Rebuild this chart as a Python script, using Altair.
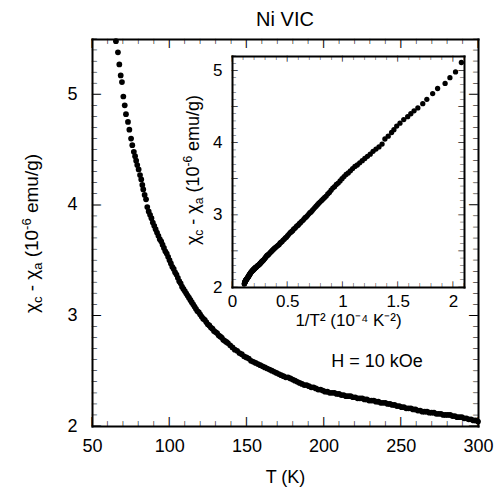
import altair as alt
import pandas as pd

# ---- data: temperature (K) and chi_c - chi_a (1e-6 emu/g)
T_K = [65.5, 66.8, 67.7, 68.6, 69.4, 70.3, 71.2, 72.0, 73.3, 74.2, 75.3, 76.1, 77.1, 77.9,
       78.6, 79.3, 80.2, 81.1, 81.9, 82.6, 83.2, 84.1, 85.0, 85.8, 86.7,
       87.6, 88.5, 89.4, 90.3, 91.2, 92.1, 93.0, 93.9, 94.8, 95.7, 96.6, 97.5, 98.4, 99.3,
       100.2, 101.1, 102.0, 102.9, 103.8, 104.7, 105.6, 106.5, 107.4, 108.3, 109.2, 110.1,
       111.0, 111.9, 112.8, 113.7, 114.6, 115.5, 116.4, 117.3, 118.2, 119.1, 120.0, 121.0,
       122.0, 123.0, 124.0, 125.0, 126.0, 127.0, 128.0, 129.0, 130.0, 131.0, 132.0, 133.0,
       134.0, 135.0, 136.0, 137.0, 138.0, 139.5, 141.0, 142.5, 144.0, 145.5, 147.0, 148.5,
       150.0, 151.5, 153.0, 154.5, 156.0, 157.5, 159.0, 160.5, 162.0, 163.5, 165.0, 166.5,
       168.0, 169.5, 171.0, 172.5, 174.0, 175.5, 177.0, 178.5, 180.0, 181.5, 183.0, 184.5,
       186.0, 187.5, 189.0, 190.5, 192.0, 193.5, 195.0, 196.5, 198.0, 199.5, 201.0, 202.5,
       204.0, 205.5, 207.0, 208.5, 210.0, 211.5, 213.0, 214.5, 216.0, 217.5, 219.0, 220.5,
       222.0, 223.5, 225.0, 226.5, 228.0, 229.5, 231.0, 232.5, 234.0, 235.5, 237.0, 238.5,
       240.0, 241.5, 243.0, 244.5, 246.0, 247.5, 249.0, 250.5, 252.0, 253.5, 255.0, 256.5,
       258.0, 259.5, 261.0, 262.5, 264.0, 265.5, 267.0, 268.5, 270.0, 271.5, 273.0, 274.5,
       276.0, 277.5, 279.0, 280.5, 282.0, 283.5, 285.0, 286.5, 288.0, 289.5, 291.0, 292.5,
       294.0, 295.5, 297.0, 298.5, 300.0]
CHI = [5.48, 5.38, 5.27, 5.17, 5.11, 4.98, 4.90, 4.82, 4.75, 4.68, 4.60, 4.54, 4.48, 4.44,
       4.40, 4.36, 4.32, 4.27, 4.23, 4.18, 4.14, 4.09, 4.05, 3.98, 3.94,
       3.91, 3.88, 3.84, 3.81, 3.78, 3.75, 3.72, 3.69, 3.67, 3.64, 3.61, 3.58, 3.56, 3.53,
       3.50, 3.47, 3.44, 3.42, 3.39, 3.37, 3.34, 3.31, 3.29, 3.26, 3.24, 3.22,
       3.20, 3.18, 3.16, 3.14, 3.12, 3.10, 3.08, 3.06, 3.04, 3.03, 3.01, 2.99,
       2.97, 2.96, 2.94, 2.92, 2.91, 2.89, 2.88, 2.86, 2.85, 2.84, 2.82, 2.81,
       2.80, 2.78, 2.77, 2.76, 2.75, 2.73, 2.71, 2.69, 2.68, 2.66, 2.65, 2.63,
       2.62, 2.61, 2.59, 2.58, 2.57, 2.56, 2.55, 2.54, 2.53, 2.52, 2.51, 2.50,
       2.49, 2.48, 2.47, 2.46, 2.45, 2.44, 2.44, 2.43, 2.42, 2.41, 2.40, 2.39,
       2.38, 2.37, 2.37, 2.36, 2.35, 2.35, 2.34, 2.33, 2.33, 2.32, 2.31, 2.31,
       2.30, 2.30, 2.30, 2.29, 2.29, 2.28, 2.28, 2.27, 2.27, 2.27, 2.26, 2.26,
       2.25, 2.25, 2.25, 2.24, 2.24, 2.23, 2.23, 2.23, 2.22, 2.22, 2.21, 2.21,
       2.21, 2.20, 2.20, 2.19, 2.19, 2.18, 2.18, 2.17, 2.17, 2.16, 2.16, 2.16,
       2.15, 2.15, 2.14, 2.14, 2.13, 2.13, 2.13, 2.12, 2.12, 2.12, 2.11, 2.11,
       2.11, 2.10, 2.10, 2.10, 2.10, 2.09, 2.09, 2.08, 2.08, 2.08, 2.07, 2.07,
       2.06, 2.06, 2.05, 2.05, 2.04]

TITLE = "Ni VIC"
X_TITLE = "T (K)"
INSET_X_TITLE = "1/T\u00b2 (10\u207b\u2074 K\u207b\u00b2)"
H_LABEL = "H = 10 kOe"
H_T = [234.6]
H_CHI = [2.53]

MAIN_X_MAJOR = [50, 100, 150, 200, 250, 300]
MAIN_X_MINOR = [t for t in range(50, 301, 10) if t % 50]
MAIN_Y_MAJOR = [2, 3, 4, 5]
MAIN_Y_MINOR = [round(2 + 0.1 * i, 1) for i in range(36) if i % 10]
INSET_X_MAJOR = [0, 0.5, 1, 1.5, 2]
INSET_X_MINOR = [round(0.1 * i, 1) for i in range(22) if i % 5]
INSET_Y_MAJOR = [2, 2.5, 3, 3.5, 4, 4.5, 5]
INSET_Y_MINOR = [round(2 + 0.1 * i, 1) for i in range(33) if i % 5]
INSET_Y_LABELS = [2, 3, 4, 5]

# ---- layout / style
FONT = "Liberation Sans"
TICK_FONT = "DejaVu Sans"
W, H = 386, 387
IX0, IX1, IYB, IYT = 140, 372, 248, 17   # inset box in plot pixels
MX, MY = (50, 300), (2, 5.5)             # main domains
NX, NY = (0, 2.1), (2, 5.2)              # inset domains

df = pd.DataFrame({"T": T_K, "chi": CHI})
hdf = pd.DataFrame({"T": H_T, "chi": H_CHI})


def sx_main():
    return alt.Scale(domain=list(MX), nice=False, zero=False)


def sy_main():
    return alt.Scale(domain=list(MY), nice=False, zero=False)


def sx_in():
    return alt.Scale(domain=list(NX), nice=False, zero=False, range=[IX0, IX1])


def sy_in():
    return alt.Scale(domain=list(NY), nice=False, zero=False, range=[IYB, IYT])


def frame_axis(orient, offset):
    return alt.Axis(orient=orient, offset=offset, labels=False, ticks=False, tickSize=0,
                    domain=True, domainColor="black", domainWidth=2, domainCap="square",
                    title=None, grid=False)


def label_axis(orient, offset, values, pad, fs, title=None, tpad=0, fmt=None):
    kw = dict(orient=orient, offset=offset, values=values, labels=True, ticks=False,
              tickSize=0, domain=False, grid=False, labelPadding=pad, labelFontSize=fs,
              labelFont=FONT, labelColor="black", labelFlush=False, labelOverlap=False)
    if fmt:
        kw["format"] = fmt
    if title:
        kw.update(title=title, titleFontSize=fs, titleFont=FONT, titleFontWeight="normal",
                  titleColor="black", titlePadding=tpad)
    else:
        kw["title"] = None
    return alt.Axis(**kw)


layers = []

# main data + label axes
layers.append(alt.Chart(df).mark_circle(size=33, color="black", opacity=1).encode(
    x=alt.X("T:Q", scale=sx_main(),
            axis=label_axis("bottom", 0, MAIN_X_MAJOR, 11, 18, X_TITLE, 13)),
    y=alt.Y("chi:Q", scale=sy_main(), axis=label_axis("left", 0, MAIN_Y_MAJOR, 15, 18)),
))

# main frame lines (bottom/left, top/right)
for xo, yo in [("top", "right"), ("bottom", "left")]:
    layers.append(alt.Chart(df).mark_circle(opacity=0).encode(
        x=alt.X("T:Q", scale=sx_main(), axis=frame_axis(xo, -H)),
        y=alt.Y("chi:Q", scale=sy_main(), axis=frame_axis(yo, -W)),
    ))


def tick_layer(xs, ys, sx, sy, angle, length):
    # inward tick drawn as a bar glyph anchored on the frame edge;
    # angle 0 points up, 180 down, 90 right, 270 left
    fs = round(length / 0.97, 1)
    return alt.Chart(pd.DataFrame({"T": xs, "chi": ys})).mark_text(
        text="|", angle=angle, align="center", baseline="bottom",
        font=TICK_FONT, fontSize=fs, fontWeight="bold", color="black").encode(
        x=alt.X("T:Q", scale=sx, axis=None),
        y=alt.Y("chi:Q", scale=sy, axis=None))


def add_ticks(xmaj, xmin, ymaj, ymin, dx, dy, sx, sy, lmaj, lmin):
    for vals, ln in [(xmaj, lmaj), (xmin, lmin)]:
        layers.append(tick_layer(vals, [dy[0]] * len(vals), sx(), sy(), 0, ln))
        layers.append(tick_layer(vals, [dy[1]] * len(vals), sx(), sy(), 180, ln))
    for vals, ln in [(ymaj, lmaj), (ymin, lmin)]:
        layers.append(tick_layer([dx[0]] * len(vals), vals, sx(), sy(), 90, ln))
        layers.append(tick_layer([dx[1]] * len(vals), vals, sx(), sy(), 270, ln))


add_ticks(MAIN_X_MAJOR, MAIN_X_MINOR, MAIN_Y_MAJOR, MAIN_Y_MINOR, MX, MY,
          sx_main, sy_main, 9, 5)

layers.append(alt.Chart(hdf).mark_text(text=H_LABEL, font=FONT, fontSize=18, color="black",
                                       align="center", baseline="alphabetic").encode(
    x=alt.X("T:Q", scale=sx_main(), axis=None),
    y=alt.Y("chi:Q", scale=sy_main(), axis=None),
))

inset_base = alt.Chart(df).transform_calculate(
    inv="10000 / (datum.T * datum.T)"
).transform_filter("datum.inv <= 2.11")

layers.append(inset_base.mark_circle(size=28, color="black", opacity=1).encode(
    x=alt.X("inv:Q", scale=sx_in(),
            axis=label_axis("bottom", -(H - IYB), INSET_X_MAJOR, 6, 17, INSET_X_TITLE, 3, "~g")),
    y=alt.Y("chi:Q", scale=sy_in(), axis=label_axis("left", -IX0, INSET_Y_LABELS, 10, 17)),
))

# inset frame lines
for xo, xoff, yo, yoff in [("top", -IYB, "right", -(W - IX0)),
                           ("bottom", -(H - IYT), "left", -IX1)]:
    layers.append(inset_base.mark_circle(opacity=0).encode(
        x=alt.X("inv:Q", scale=sx_in(), axis=frame_axis(xo, xoff)),
        y=alt.Y("chi:Q", scale=sy_in(), axis=frame_axis(yo, yoff)),
    ))

add_ticks(INSET_X_MAJOR, INSET_X_MINOR, INSET_Y_MAJOR, INSET_Y_MINOR, NX, NY,
          sx_in, sy_in, 6, 3.8)

# rotated y titles with real sub/superscripts, built from text pieces
WID = {"-": 0.333, "(": 0.333, ")": 0.333, "/": 0.278, "\u03c7": 0.52,
       "c": 0.5, "a": 0.556, "e": 0.556, "m": 0.833, "u": 0.556, "g": 0.556,
       "0": 0.556, "1": 0.556, "6": 0.556, " ": 0.278}


def rotated_title(xb, ystart, fs):
    sub = round(fs * 0.68)
    pieces = [("\u03c7", fs, 0), ("c", sub, 4), (" ", fs, 0), ("-", fs, 0), (" ", fs, 0),
              ("\u03c7", fs, 0), ("a", sub, 4), (" ", fs, 0), ("(10", fs, 0),
              ("-6", sub, -7), (" ", fs, 0), ("emu/g)", fs, 0)]
    out = []
    y = ystart
    for txt, size, shift in pieces:
        if txt.strip():
            out.append(
                alt.Chart(alt.Data(values=[{"k": 1}])).mark_text(
                    text=txt, angle=270, align="left", baseline="alphabetic",
                    font=FONT, fontSize=size, color="black"
                ).encode(x=alt.value(xb + shift), y=alt.value(y))
            )
        y -= sum(WID.get(ch, 0.556) for ch in txt) * size
    return out


layers += rotated_title(-54, 274, 19) + rotated_title(107, 206, 18)

chart = alt.layer(*layers).resolve_scale(
    x="independent", y="independent"
).properties(
    width=W, height=H,
    title=alt.TitleParams(TITLE, font=FONT, fontSize=20, fontWeight="normal",
                          color="black", anchor="middle", offset=8),
    autosize=alt.AutoSizeParams(type="none"),
    padding={"left": 92, "top": 39, "right": 24, "bottom": 69},
    background="white",
).configure_view(strokeWidth=0)

chart.save("out.html", embed_options={"renderer": "svg", "actions": False})
